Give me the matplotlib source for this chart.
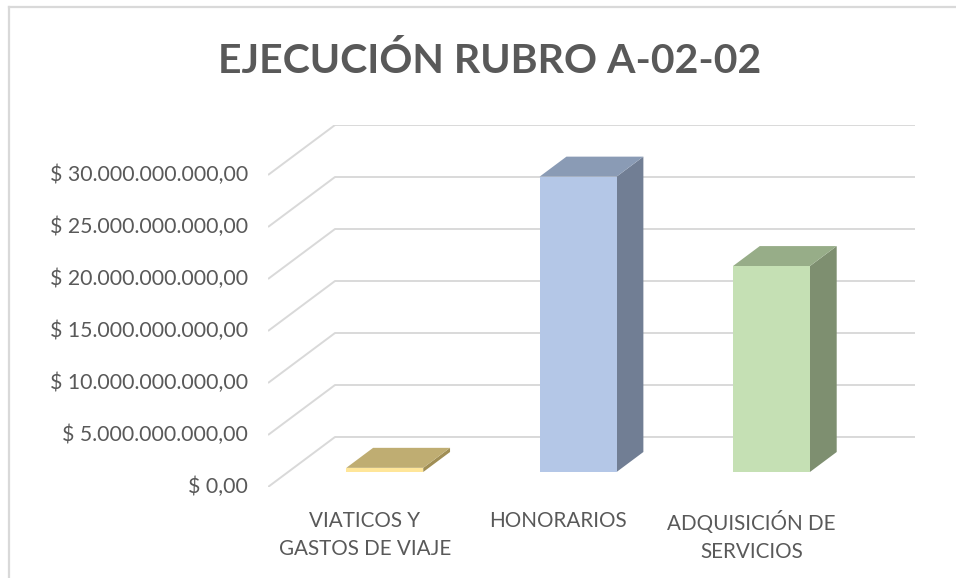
import matplotlib
matplotlib.use("Agg")
from matplotlib import pyplot as plt
from matplotlib.patches import Polygon
from matplotlib.lines import Line2D

# data
categories = ["VIATICOS Y\nGASTOS DE VIAJE", "HONORARIOS", "ADQUISICIÓN DE\nSERVICIOS"]
values = [0.4e9, 28.4e9, 19.8e9]
ticks = [0, 5e9, 10e9, 15e9, 20e9, 25e9, 30e9]
tick_labels = ["$ 0,00", "$ 5.000.000.000,00", "$ 10.000.000.000,00", "$ 15.000.000.000,00",
               "$ 20.000.000.000,00", "$ 25.000.000.000,00", "$ 30.000.000.000,00"]

front_colors = ["#ffe699", "#b4c7e7", "#c5e0b4"]
top_colors = ["#bfad72", "#8a9bb5", "#97ad88"]
side_colors = ["#a08e55", "#717e94", "#7e8f70"]

plt.rcParams['font.family'] = ['Lato', 'DejaVu Sans']
text_col = "#595959"
grid_col = "#d9d9d9"

# depth projection (full depth of the floor) in data units
ddx = 0.3466
ddy = 4.808e9
bar_w = 0.398
d0, d1 = 0.3, 0.7   # bar occupies this slice of the depth


def proj(x, v, d):
    return (x + d * ddx, v + d * ddy)


fig = plt.figure(figsize=(9.56, 5.78), dpi=100)
W, H = 956, 578
px = 72 / 100  # one pixel in points
ax = fig.add_axes([268 / W, (H - 487) / H, (915 - 268) / W, (487 - 125) / H])
ax.set_xlim(-0.5, 2.5 + ddx)
ax.set_ylim(0, 30e9 + ddy)
ax.axis("off")

# gridlines: slanted left wall + back wall
for t, lab in zip(ticks, tick_labels):
    xs = [-0.5, -0.5 + ddx, 2.5 + ddx]
    ys = [t, t + ddy, t + ddy]
    ax.plot(xs, ys, color=grid_col, lw=1.4, solid_capstyle="butt", zorder=1)
    ax.annotate(lab, xy=(-0.5, t), xytext=(-20 * px, 0), textcoords="offset points",
                ha="right", va="center", fontsize=15.3, color=text_col, annotation_clip=False)

# bars
for i, (v, fc, tc, sc) in enumerate(zip(values, front_colors, top_colors, side_colors)):
    x0 = i - bar_w / 2
    x1 = i + bar_w / 2
    front = [proj(x0, 0, d0), proj(x1, 0, d0), proj(x1, v, d0), proj(x0, v, d0)]
    side = [proj(x1, 0, d0), proj(x1, 0, d1), proj(x1, v, d1), proj(x1, v, d0)]
    top = [proj(x0, v, d0), proj(x1, v, d0), proj(x1, v, d1), proj(x0, v, d1)]
    ax.add_patch(Polygon(side, closed=True, fc=sc, ec="none", zorder=3))
    ax.add_patch(Polygon(top, closed=True, fc=tc, ec="none", zorder=3))
    ax.add_patch(Polygon(front, closed=True, fc=fc, ec="none", zorder=4))
    ax.annotate(categories[i], xy=(i, 0), xytext=(0, -24 * px), textcoords="offset points",
                ha="center", va="top", fontsize=14.9, color=text_col,
                linespacing=1.5, annotation_clip=False)

fig.text(490 / W, 1 - 73 / H, "EJECUCIÓN RUBRO A-02-02", ha="center", va="baseline",
         fontsize=29.5, fontweight="bold", color=text_col)

# chart frame (left and top edges)
fig.add_artist(Line2D([9 / W, 9 / W], [0, 1 - 7 / H], color=grid_col, lw=1.6,
                      transform=fig.transFigure))
fig.add_artist(Line2D([9 / W, 1], [1 - 7 / H, 1 - 7 / H], color=grid_col, lw=1.6,
                      transform=fig.transFigure))

fig.savefig("out.png", dpi=100)
